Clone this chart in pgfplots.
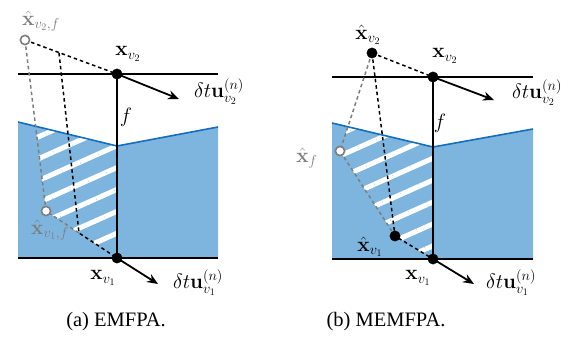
\documentclass[border=0pt]{standalone}
\usepackage[no-math]{fontspec}
\newfontfamily\timesfont{Liberation Serif}
\usepackage{pgfplots}
\pgfplotsset{compat=1.18}
\usetikzlibrary{patterns.meta, arrows.meta}
\definecolor{fillblue}{RGB}{125,181,222}
\definecolor{lineblue}{RGB}{20,110,190}
\definecolor{hatgray}{RGB}{125,125,125}
\tikzset{lbl/.style={font=\fontsize{19.5}{22}\selectfont, inner sep=0pt},
  captxt/.style={font=\fontsize{20.5}{24}\selectfont\timesfont, inner sep=0pt},
  dsh/.style={line width=1.5pt, dash pattern=on 3.5pt off 3pt}}
\begin{document}
\begin{tikzpicture}
\begin{axis}[scale only axis, width=580pt, height=351pt, xmin=0, xmax=580, ymin=0, ymax=351,
  y dir=reverse, hide axis, clip=false]
% ---------------- left panel ----------------
\addplot[fill=fillblue, draw=none] coordinates {(18,122)(117,146)(218,127)(218,258)(18,258)} -- cycle;
\addplot[draw=none, pattern={Lines[angle=24,distance=20pt,line width=5pt]}, pattern color=white]
  coordinates {(35.6,126.3)(117,146)(117,258)(46,211)} -- cycle;
\addplot[lineblue, line width=1.6pt] coordinates {(18,122)(117,146)(218,127)};
\addplot[black, line width=1.8pt] coordinates {(18,74)(218,74)};
\addplot[black, line width=1.8pt] coordinates {(18,258)(218,258)};
\addplot[black, line width=1.8pt] coordinates {(117,74)(117,258)};
\addplot[hatgray, dsh] coordinates {(25,40)(46,211)(79,233)};
\addplot[black, dsh] coordinates {(25,40)(117,74)};
\addplot[black, dsh] coordinates {(59,53)(79,233)(117,258)};
\addplot[black, line width=1.8pt, -{Stealth[length=11pt,width=9pt]}] coordinates {(117,74)(179,99)};
\addplot[black, line width=1.8pt, -{Stealth[length=11pt,width=9pt]}] coordinates {(117,258)(158,284)};
\addplot[only marks, mark=*, mark size=5.2pt, black] coordinates {(117,74)(117,258)};
\addplot[only marks, mark=*, mark size=4.6pt, mark options={draw=hatgray, fill=white, line width=1.6pt}] coordinates {(25,40)(46,211)};
\node[lbl, text=hatgray] at (axis cs:41,21) {$\hat{\mathbf{x}}_{v_2,f}$};
\node[lbl] at (axis cs:128,54) {$\mathbf{x}_{v_2}$};
\node[lbl] at (axis cs:219,92) {$\delta t\mathbf{u}_{v_2}^{(n)}$};
\node[lbl] at (axis cs:126,117) {$f$};
\node[lbl, text=hatgray] at (axis cs:50,230) {$\hat{\mathbf{x}}_{v_1,f}$};
\node[lbl] at (axis cs:103,278) {$\mathbf{x}_{v_1}$};
\node[lbl] at (axis cs:198,283) {$\delta t\mathbf{u}_{v_1}^{(n)}$};
\node[captxt] at (axis cs:116,322) {(a) EMFPA.};
% ---------------- right panel ----------------
\addplot[fill=fillblue, draw=none] coordinates {(332,123)(433,147)(533,129)(533,259)(332,259)} -- cycle;
\addplot[draw=none, pattern={Lines[angle=24,distance=20pt,line width=5pt]}, pattern color=white]
  coordinates {(348,126.8)(433,147)(433,259)(395,236)(340,151)} -- cycle;
\addplot[lineblue, line width=1.6pt] coordinates {(332,123)(433,147)(533,129)};
\addplot[black, line width=1.8pt] coordinates {(332,77)(533,77)};
\addplot[black, line width=1.8pt] coordinates {(332,259)(533,259)};
\addplot[black, line width=1.8pt] coordinates {(433,77)(433,259)};
\addplot[hatgray, dsh] coordinates {(372,53)(340,151)(395,236)};
\addplot[black, dsh] coordinates {(372,53)(433,77)};
\addplot[black, dsh] coordinates {(372,53)(395,236)(433,259)};
\addplot[black, line width=1.8pt, -{Stealth[length=11pt,width=9pt]}] coordinates {(433,77)(494,100)};
\addplot[black, line width=1.8pt, -{Stealth[length=11pt,width=9pt]}] coordinates {(433,259)(474,284)};
\addplot[only marks, mark=*, mark size=5.2pt, black] coordinates {(433,77)(433,259)(372,53)(395,236)};
\addplot[only marks, mark=*, mark size=4.6pt, mark options={draw=hatgray, fill=white, line width=1.6pt}] coordinates {(340,151)};
\node[lbl] at (axis cs:368,35) {$\hat{\mathbf{x}}_{v_2}$};
\node[lbl] at (axis cs:445,56) {$\mathbf{x}_{v_2}$};
\node[lbl] at (axis cs:537,93) {$\delta t\mathbf{u}_{v_2}^{(n)}$};
\node[lbl] at (axis cs:440,123) {$f$};
\node[lbl, text=hatgray] at (axis cs:307,158) {$\hat{\mathbf{x}}_{f}$};
\node[lbl] at (axis cs:370,247) {$\hat{\mathbf{x}}_{v_1}$};
\node[lbl] at (axis cs:418,278) {$\mathbf{x}_{v_1}$};
\node[lbl] at (axis cs:511,283) {$\delta t\mathbf{u}_{v_1}^{(n)}$};
\node[captxt] at (axis cs:386,322) {(b) MEMFPA.};
\end{axis}
\path[use as bounding box] (current axis.south west) rectangle (current axis.north east);
\end{tikzpicture}
\end{document}
